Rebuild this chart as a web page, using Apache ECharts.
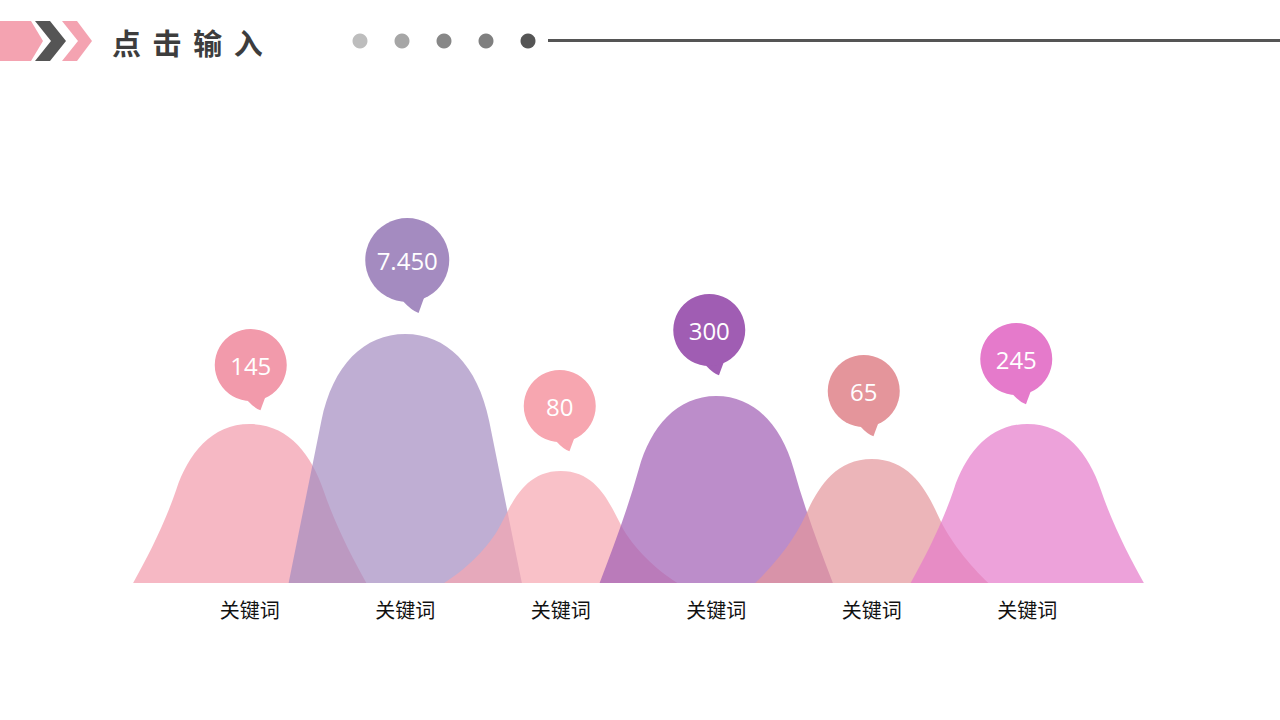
<!DOCTYPE html>
<html><head><meta charset="utf-8">
<script src="https://cdn.jsdelivr.net/npm/echarts@6/dist/echarts.min.js"></script>
<style>html,body{margin:0;padding:0;background:#fff}#c{width:1280px;height:720px}</style>
</head><body><div id="c"></div>
<script>
// ---- data ----
const categories = ['关键词', '关键词', '关键词', '关键词', '关键词', '关键词'];
const valueLabels = ['145', '7.450', '80', '300', '65', '245'];
const heights = [159, 249, 112, 187, 124, 159];
const title = '点击输入';
// ---- style / layout ----
const colors = ['#f29aab', '#a48bc0', '#f7a6b0', '#a05db3', '#e4959b', '#e57acb'];
const bubbleShiftX = [1, 2, -1, -7, -8, -11];   // px nudges of callouts
const bubbleGap = [23, 32, 29, 30, 32, 29];      // px between circle bottom and hill top
const CJK = '"Noto Sans CJK SC", "Noto Sans", sans-serif';

// normalised bell outlines (x in half-widths, y in fractions of height), left half
const tallProfile  = [[-1, 0], [-0.907, 0.217], [-0.813, 0.433], [-0.72, 0.65], [-0.622, 0.8775], [-0.35, 1], [0, 1]];
const shortProfile = [[-1, 0], [-0.82, 0.10], [-0.60, 0.30], [-0.50, 0.50], [-0.395, 0.71], [-0.30, 1], [0, 1]];

const chart = echarts.init(document.getElementById('c'), null, {renderer: 'svg'});

function hillItem(params, api) {
  const i = api.value(0), h = api.value(1);
  const base = api.coord([i, 0]);
  const top = api.coord([i, h]);
  const bw = api.size([1, 0])[0];
  const hw = bw * 0.75, cx = base[0], b = base[1], H = b - top[1];
  const w = Math.sqrt(Math.max(0, Math.min(1, (H - 111) / 138)));
  const pts = tallProfile.map((p, k) => [
    shortProfile[k][0] + (p[0] - shortProfile[k][0]) * w,
    shortProfile[k][1] + (p[1] - shortProfile[k][1]) * w
  ]);
  const P = (q, s) => (cx + s * q[0] * hw) + ' ' + (b - q[1] * H);
  const d = 'M' + P(pts[0], 1) +
    ' C' + P(pts[1], 1) + ' ' + P(pts[2], 1) + ' ' + P(pts[3], 1) +
    ' C' + P(pts[4], 1) + ' ' + P(pts[5], 1) + ' ' + P(pts[6], 1) +
    ' C' + P(pts[5], -1) + ' ' + P(pts[4], -1) + ' ' + P(pts[3], -1) +
    ' C' + P(pts[2], -1) + ' ' + P(pts[1], -1) + ' ' + P(pts[0], -1) + ' Z';
  return {
    type: 'path',
    shape: {pathData: d},
    style: {fill: colors[params.dataIndex], opacity: 0.7}
  };
}

function bubbleItem(params, api) {
  const k = params.dataIndex;
  const i = api.value(0), h = api.value(1);
  const top = api.coord([i, h]);
  const label = valueLabels[k];
  const r = label.length > 3 ? 42 : 36;
  const cx = top[0] + bubbleShiftX[k], cy = top[1] - r - bubbleGap[k];
  const col = colors[k];
  const tail = 'M' + (cx - 0.1 * r) + ' ' + (cy + 0.98 * r) +
    ' Q' + (cx + 0.1 * r) + ' ' + (cy + 1.2 * r) + ' ' + (cx + 0.27 * r) + ' ' + (cy + 1.26 * r) +
    ' L' + (cx + 0.4 * r) + ' ' + (cy + 0.9 * r) + ' Z';
  return {
    type: 'group',
    children: [
      {type: 'path', shape: {pathData: tail}, style: {fill: col}},
      {type: 'circle', shape: {cx: cx, cy: cy, r: r}, style: {fill: col}},
      {type: 'text', style: {text: label, x: cx, y: cy, align: 'center', verticalAlign: 'middle',
        fill: '#ffffff', fontSize: 24, fontFamily: '"Open Sans", "Noto Sans", sans-serif'}}
    ]
  };
}

const hillData = heights.map((h, i) => [i, h]);

const dots = [
  {x: 360, c: '#bdbdbd'}, {x: 402, c: '#a6a6a6'}, {x: 444, c: '#878787'},
  {x: 486, c: '#7f7f7f'}, {x: 528, c: '#555555'}
];

chart.setOption({
  backgroundColor: '#ffffff',
  animation: false,
  grid: {left: 172, right: 175, top: 283, bottom: 137},
  xAxis: {
    type: 'category', data: categories, boundaryGap: true,
    axisLine: {show: false}, axisTick: {show: false}, splitLine: {show: false},
    axisLabel: {color: '#111111', fontSize: 20, margin: 16, fontFamily: CJK}
  },
  yAxis: {type: 'value', min: 0, max: 300, show: false},
  series: [
    {type: 'custom', renderItem: hillItem, data: hillData, z: 2, clip: false},
    {type: 'custom', renderItem: bubbleItem, data: hillData, z: 3, clip: false}
  ],
  graphic: [
    {type: 'polygon', shape: {points: [[0, 21], [31, 21], [43, 41], [31, 61], [0, 61]]}, style: {fill: '#f4a3b1'}},
    {type: 'polygon', shape: {points: [[35, 21], [50, 21], [66, 41], [50, 61], [35, 61], [51, 41]]}, style: {fill: '#555555'}},
    {type: 'polygon', shape: {points: [[62, 21], [77, 21], [92, 41], [77, 61], [62, 61], [78, 41]]}, style: {fill: '#f4a3b1'}},
    {type: 'text', x: 112, y: 42, style: {text: title.split('').join('\u2009\u2009'), fill: '#3d3d3d',
      fontSize: 29, fontWeight: 'bold', fontFamily: CJK, verticalAlign: 'middle', align: 'left'}},
    ...dots.map(d => ({type: 'circle', shape: {cx: d.x, cy: 41, r: 7.5}, style: {fill: d.c}})),
    {type: 'rect', shape: {x: 548, y: 39, width: 732, height: 3}, style: {fill: '#555555'}}
  ]
});
</script>
</body></html>
